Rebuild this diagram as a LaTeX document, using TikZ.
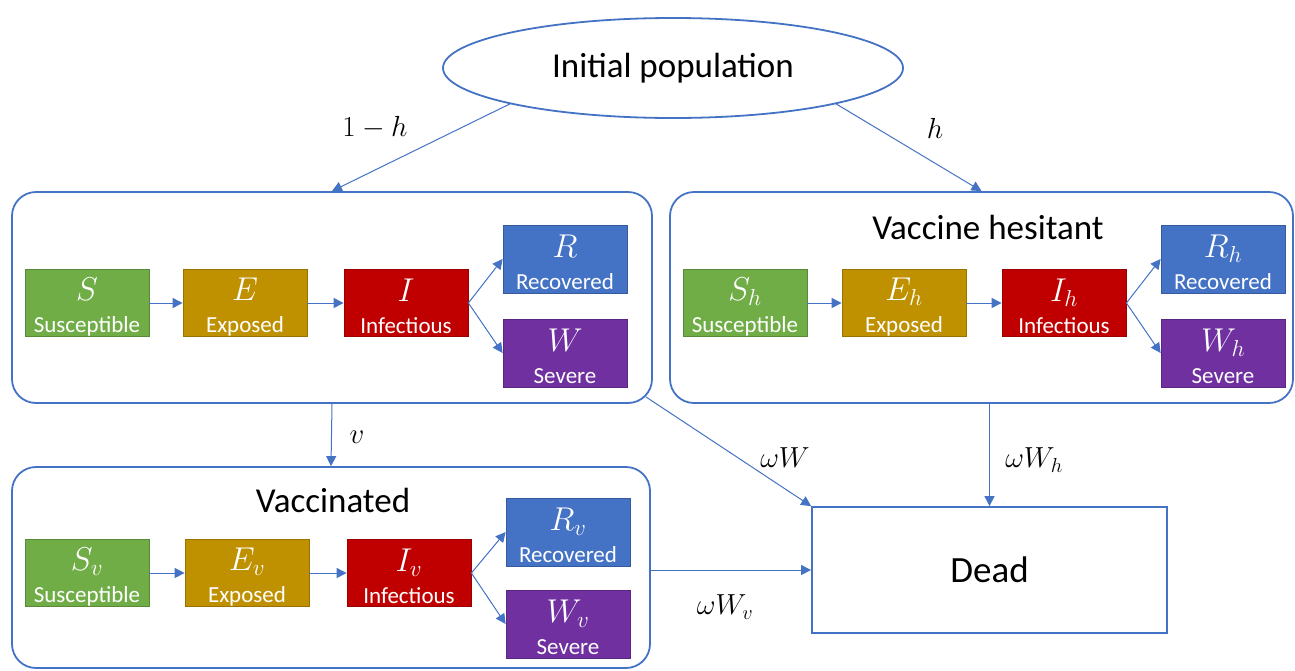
\RequirePackage{fix-cm}
\documentclass[tikz,border=0pt]{standalone}
\usepackage{fontspec}
\setmainfont{Carlito}
\usetikzlibrary{shapes.geometric,arrows.meta}

\definecolor{lineblue}{HTML}{4472C4}
\definecolor{sgreen}{HTML}{70AD47}
\definecolor{egold}{HTML}{BF9000}
\definecolor{ired}{HTML}{C00000}
\definecolor{rblue}{HTML}{4472C4}
\definecolor{wpurple}{HTML}{7030A0}

\tikzset{
  comp/.style={fill=#1, draw=#1!80!black, line width=0.8pt, text=white,
    minimum width=124pt, minimum height=67pt, inner sep=0pt, align=center,
    font=\fontsize{23}{32}\selectfont},
  group/.style={draw=lineblue, line width=1.8pt, rounded corners=24pt, inner sep=0pt},
  flow/.style={draw=lineblue, line width=1pt, -{Triangle[length=10pt,width=10pt]}},
  heading/.style={font=\fontsize{35}{37}\selectfont},
  rate/.style={font=\fontsize{29}{31}\selectfont},
}
\newcommand{\cname}[2]{\rule{0pt}{30pt}{\fontsize{33}{32}\selectfont$#1$}\\#2}

\begin{document}
\begin{tikzpicture}[x=1pt,y=-1pt]
\useasboundingbox (0,0) rectangle (1295,670);

\node[ellipse, draw=lineblue, line width=1.8pt, minimum width=460pt, minimum height=100pt, heading] (init) at (673,68) {Initial population};

% the three groups and the dead box
\node[group, minimum width=640pt, minimum height=211pt] (gen) at (332,297.5) {};
\node[group, minimum width=623pt, minimum height=211pt] (hes) at (981.5,297.5) {};
\node[group, minimum width=638pt, minimum height=201pt] (vac) at (331,567.5) {};
\node[draw=lineblue, line width=1.8pt, minimum width=355pt, minimum height=126pt, heading, font=\fontsize{37}{39}\selectfont] (dead) at (989.5,570) {Dead};

\node[heading] (hestitle) at (988,227) {Vaccine hesitant};
\node[heading] (vactitle) at (333,500) {Vaccinated};

% not vaccinated
\node[comp=sgreen] (S) at (87,303) {\cname{S}{Susceptible}};
\node[comp=egold] (E) at (245,303) {\cname{E}{Exposed}};
\node[comp=ired] (I) at (406,303) {\cname{I}{Infectious}};
\node[comp=rblue, minimum height=68pt] (R) at (565,259) {\cname{R}{Recovered}};
\node[comp=wpurple, minimum height=68pt] (W) at (565,353) {\cname{W}{Severe}};

% hesitant
\node[comp=sgreen] (Sh) at (745,303) {\cname{S_h}{Susceptible}};
\node[comp=egold] (Eh) at (904,303) {\cname{E_h}{Exposed}};
\node[comp=ired] (Ih) at (1064,303) {\cname{I_h}{Infectious}};
\node[comp=rblue, minimum height=68pt] (Rh) at (1223,259) {\cname{R_h}{Recovered}};
\node[comp=wpurple, minimum height=68pt] (Wh) at (1223,353) {\cname{W_h}{Severe}};

% vaccinated
\node[comp=sgreen] (Sv) at (87,573) {\cname{S_v}{Susceptible}};
\node[comp=egold] (Ev) at (247,573) {\cname{E_v}{Exposed}};
\node[comp=ired] (Iv) at (409,573) {\cname{I_v}{Infectious}};
\node[comp=rblue, minimum height=68pt] (Rv) at (568,532) {\cname{R_v}{Recovered}};
\node[comp=wpurple, minimum height=68pt] (Wv) at (568,624) {\cname{W_v}{Severe}};

\draw[flow] (S) -- (E);
\draw[flow] (E) -- (I);
\draw[flow] (I.east) -- (R.west);
\draw[flow] (I.east) -- (W.west);
\draw[flow] (Sh) -- (Eh);
\draw[flow] (Eh) -- (Ih);
\draw[flow] (Ih.east) -- (Rh.west);
\draw[flow] (Ih.east) -- (Wh.west);
\draw[flow] (Sv) -- (Ev);
\draw[flow] (Ev) -- (Iv);
\draw[flow] (Iv.east) -- (Rv.west);
\draw[flow] (Iv.east) -- (Wv.west);

% between groups
\draw[flow] (init.south west) -- (gen.north);
\draw[flow] (init.south east) -- (hes.north);
\draw[flow] (gen.south) -- (vac.north);
\draw[flow] ([shift={(-7,-7)}]gen.south east) -- (dead.north west);
\draw[flow] (dead.north |- hes.south) -- (dead.north);
\draw[flow] (vac.east |- dead.west) -- (dead.west);

\node[rate] (l1h) at (375,128) {$1-h$};
\node[rate] (lh) at (935,128) {$h$};
\node[rate] (lv) at (357,437) {$v$};
\node[rate] (lw) at (785,458) {$\omega W$};
\node[rate] (lwh) at (1034,460) {$\omega W_h$};
\node[rate] (lwv) at (725,607) {$\omega W_v$};
\end{tikzpicture}
\end{document}
